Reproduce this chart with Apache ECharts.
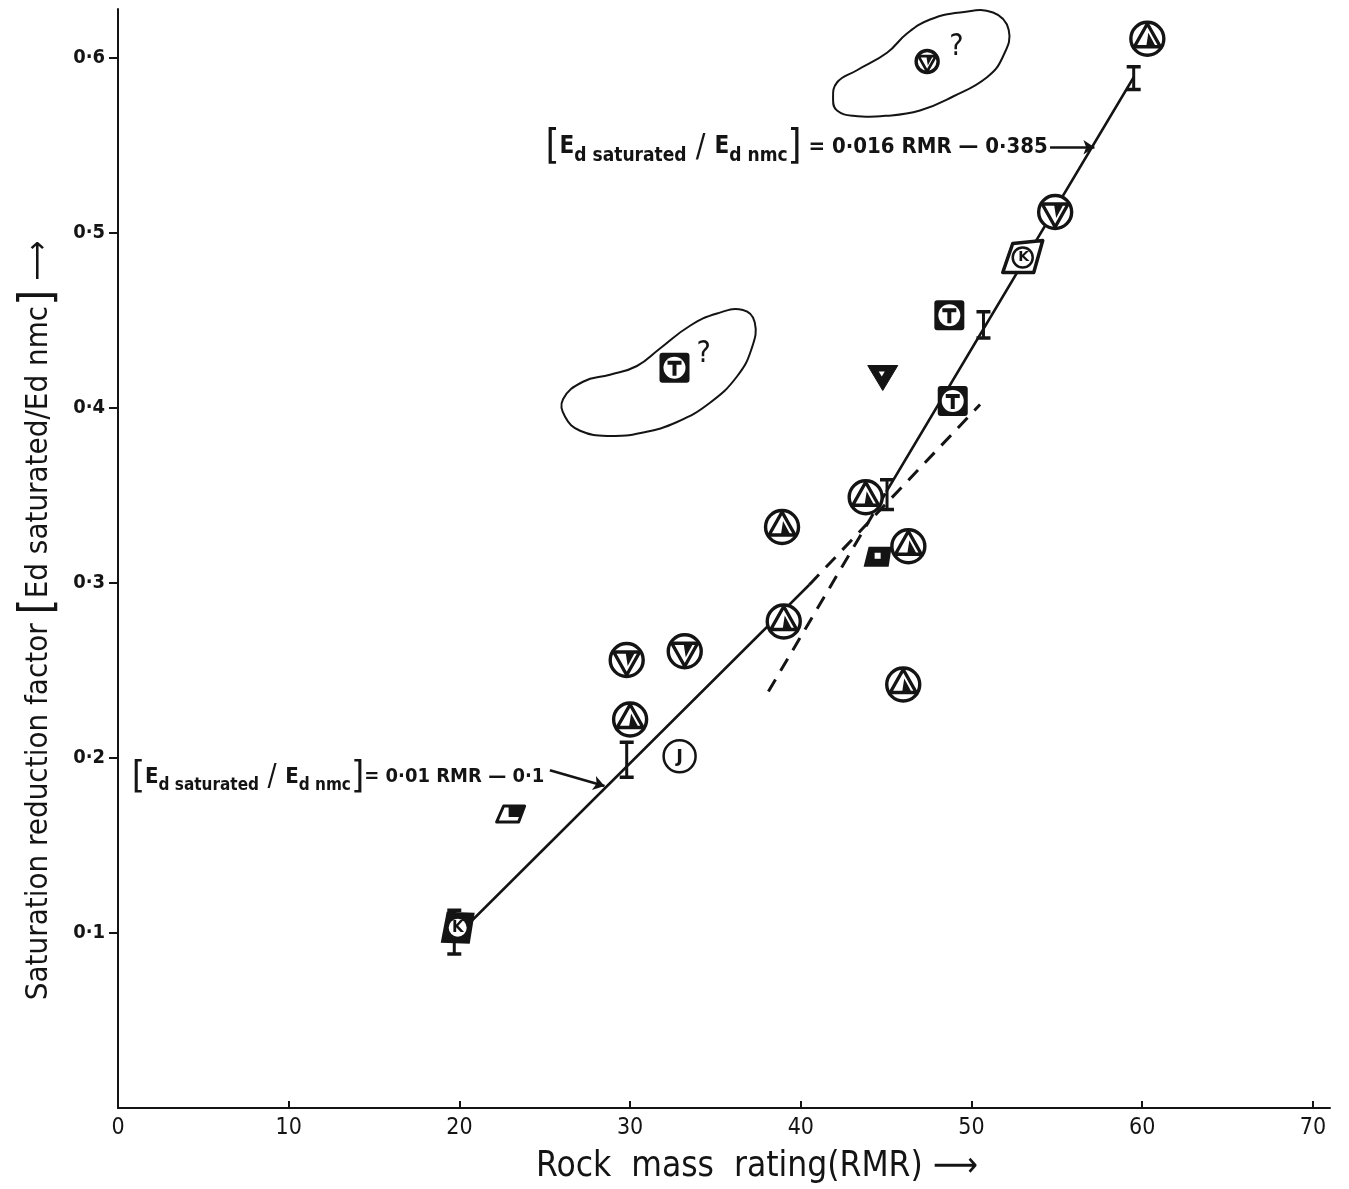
<!DOCTYPE html>
<html>
<head>
<meta charset="utf-8">
<script src="https://cdn.jsdelivr.net/npm/echarts@6/dist/echarts.min.js"></script>
<style>
html,body{margin:0;padding:0;background:#fff;}
#chart{width:1349px;height:1189px;}
</style>
</head>
<body>
<div id="chart"></div>
<script>
// ---------- data ----------
const xTicks = [0, 10, 20, 30, 40, 50, 60, 70];
const yTicks = [0.1, 0.2, 0.3, 0.4, 0.5, 0.6];

const pointRMR    = [60.3, 47.4, 54.9, 53.0, 48.7, 44.8, 48.9, 32.6, 43.8, 38.9, 46.3, 44.5, 39.0, 46.0, 29.8, 33.2, 30.0, 32.9, 23.0, 19.9];
const pointFactor = [0.611, 0.598, 0.512, 0.486, 0.453, 0.418, 0.404, 0.423, 0.349, 0.332, 0.321, 0.315, 0.278, 0.242, 0.256, 0.261, 0.222, 0.201, 0.168, 0.103];
const pointMarker = ['cu', 'cds', 'cd', 'dk', 'st', 'td', 'st', 'st', 'cu', 'cu', 'cu', 'sq', 'cu', 'cu', 'cd', 'cd', 'cu', 'cj', 'pg', 'sk'];
const pointQuery  = [false, true, false, false, false, false, false, true, false, false, false, false, false, false, false, false, false, false, false, false];

const errRMR  = [19.7, 29.8, 45.05, 50.7, 59.5];
const errLow  = [0.088, 0.189, 0.342, 0.440, 0.582];
const errHigh = [0.113, 0.209, 0.359, 0.455, 0.595];

const fitSolid = [[19.9, 0.099], [40.5, 0.299], null, [45.0, 0.352], [59.5, 0.589]];
const fit1Dashed = [[40.5, 0.299], [50.5, 0.402]];
const fit2Dashed = [[38.1, 0.238], [45.0, 0.352]];

const blobLow = [[26.07,0.405],[27.24,0.415],[28.82,0.419],[30.40,0.424],[31.75,0.434],[33.51,0.447],[35.09,0.454],[36.61,0.456],[37.30,0.449],[37.12,0.434],[36.26,0.418],[34.68,0.403],[32.75,0.392],[30.76,0.386],[28.82,0.384],[27.07,0.387],[26.19,0.395]];
const blobHigh = [[41.89,0.576],[42.12,0.586],[43.29,0.593],[45.05,0.603],[46.22,0.614],[47.57,0.622],[49.33,0.626],[51.26,0.626],[52.18,0.616],[51.85,0.601],[50.91,0.589],[48.92,0.578],[46.98,0.570],[45.05,0.567],[43.06,0.567],[42.12,0.570]];

const eq1Anchor = [54.5, 0.549];
const eq1Arrow = [[54.6, 0.549], [57.2, 0.549]];
const eq2Anchor = [25.0, 0.189];
const eq2Arrow = [[25.3, 0.193], [28.5, 0.184]];

const eq1Text = '{br|[}{e|E}{sub|d saturated}{sl| / }{e|E}{sub|d nmc}{br|]}{eq| = 0·016 RMR — 0·385}';
const eq2Text = '{br2|[}{e2|E}{sub2|d saturated}{sl2| / }{e2|E}{sub2|d nmc}{br2|]}{eq2|= 0·01 RMR — 0·1}';

const xTitle = 'Rock  mass  rating(RMR) ⟶';
const yTitle = 'Saturation reduction factor {br|[}Ed saturated/Ed nmc{br|]} ⟶';

// ---------- rendering ----------
const INK = '#141414';
const NARROW = '"DejaVu Sans Condensed", "Liberation Sans Narrow", "DejaVu Sans", sans-serif';

function fmtDot(v) { return String(v).replace('.', '·'); }

function markerShapes(t) {
  const c = [];
  if (t === 'cu' || t === 'cd' || t === 'cds') {
    const r = t === 'cds' ? 11 : 16.5;
    const k = r / 16.5;
    const up = t === 'cu' ? 1 : -1;
    c.push({ type: 'circle', shape: { cx: 0, cy: 0, r: r }, style: { stroke: INK, lineWidth: 3.4, fill: '#fff' } });
    c.push({ type: 'polygon', shape: { points: [[0, -15 * k * up], [-13 * k, 8 * k * up], [13 * k, 8 * k * up]] }, style: { stroke: INK, lineWidth: 3.4 * Math.max(k, 0.8), fill: 'none', lineJoin: 'round' } });
    c.push({ type: 'polygon', shape: { points: [[1 * k, -6 * k * up], [8 * k, 7 * k * up], [-1 * k, 7 * k * up]] }, style: { fill: INK } });
  } else if (t === 'st') {
    c.push({ type: 'rect', shape: { x: -15, y: -15, width: 30, height: 30, r: 3 }, style: { fill: INK } });
    c.push({ type: 'circle', shape: { cx: 0, cy: 0, r: 11 }, style: { fill: '#fff' } });
    c.push({ type: 'rect', shape: { x: -7, y: -7, width: 14, height: 4 }, style: { fill: INK } });
    c.push({ type: 'rect', shape: { x: -2, y: -5, width: 4, height: 13 }, style: { fill: INK } });
  } else if (t === 'sk') {
    c.push({ type: 'polygon', shape: { points: [[-11, -16], [17, -15], [12, 16], [-17, 15]] }, style: { fill: INK } });
    c.push({ type: 'circle', shape: { cx: 0, cy: 0, r: 9 }, style: { fill: '#fff' } });
    c.push({ type: 'text', style: { x: 0, y: 0, text: 'K', font: 'bold 15px "DejaVu Sans"', fill: INK, align: 'center', verticalAlign: 'middle' } });
  } else if (t === 'dk') {
    c.push({ type: 'polygon', shape: { points: [[-10, -14], [20, -17], [11, 15], [-20, 15]] }, style: { stroke: INK, lineWidth: 3.5, fill: '#fff', lineJoin: 'round' } });
    c.push({ type: 'circle', shape: { cx: 0, cy: 0, r: 10 }, style: { stroke: INK, lineWidth: 2.5, fill: '#fff' } });
    c.push({ type: 'text', style: { x: 1, y: 0, text: 'K', font: 'bold 14px "DejaVu Sans"', fill: INK, align: 'center', verticalAlign: 'middle' } });
  } else if (t === 'td') {
    c.push({ type: 'polygon', shape: { points: [[-15, -11], [15, -11], [0, 14]] }, style: { fill: INK, stroke: INK, lineWidth: 1, lineJoin: 'round' } });
    c.push({ type: 'polygon', shape: { points: [[-4, -5], [2, -5], [-1, 0]] }, style: { fill: '#fff' } });
  } else if (t === 'cj') {
    c.push({ type: 'circle', shape: { cx: 0, cy: 0, r: 16 }, style: { stroke: INK, lineWidth: 2.5, fill: '#fff' } });
    c.push({ type: 'text', style: { x: 0, y: 1, text: 'J', font: 'bold 18px "DejaVu Sans"', fill: INK, align: 'center', verticalAlign: 'middle' } });
  } else if (t === 'pg') {
    c.push({ type: 'polygon', shape: { points: [[-7, -8], [14, -8], [8, 8], [-14, 8]] }, style: { stroke: INK, lineWidth: 3, fill: '#fff', lineJoin: 'round' } });
    c.push({ type: 'polygon', shape: { points: [[-2, -7], [13, -7], [9, 3], [-2, 3]] }, style: { fill: INK } });
  } else if (t === 'sq') {
    c.push({ type: 'polygon', shape: { points: [[-9, -10], [14, -10], [11, 10], [-14, 10]] }, style: { fill: INK } });
    c.push({ type: 'rect', shape: { x: -3, y: -4, width: 6, height: 6 }, style: { fill: '#fff' } });
  }
  return c;
}

function blobSeries(pts) {
  return {
    type: 'custom', z: 1, data: [pts[0]], silent: true,
    renderItem: (params, api) => {
      const px = pts.map(p => api.coord(p));
      return { type: 'polygon', shape: { points: px, smooth: 0.45 }, style: { stroke: INK, lineWidth: 2, fill: 'none' } };
    }
  };
}

const markerData = pointRMR.map((x, i) => [x, pointFactor[i]]);
const errData = errRMR.map((x, i) => [x, errLow[i], errHigh[i]]);

const chart = echarts.init(document.getElementById('chart'), null, { renderer: 'canvas' });

const richEq = {
  br: { fontSize: 40, lineHeight: 44, fontFamily: NARROW, color: INK },
  e: { fontSize: 24, fontFamily: NARROW, color: INK, fontWeight: 'bold', verticalAlign: 'middle' },
  sub: { fontSize: 19, fontFamily: NARROW, color: INK, fontWeight: 'bold', verticalAlign: 'bottom', padding: [0, 0, 4, 0] },
  sl: { fontSize: 32, fontFamily: NARROW, color: INK },
  eq: { fontSize: 22, fontFamily: NARROW, color: INK, fontWeight: 'bold' },
  br2: { fontSize: 38, lineHeight: 42, fontFamily: NARROW, color: INK },
  e2: { fontSize: 22, fontFamily: NARROW, color: INK, fontWeight: 'bold', verticalAlign: 'middle' },
  sub2: { fontSize: 17, fontFamily: NARROW, color: INK, fontWeight: 'bold', verticalAlign: 'bottom', padding: [0, 0, 4, 0] },
  sl2: { fontSize: 30, fontFamily: NARROW, color: INK },
  eq2: { fontSize: 20, fontFamily: NARROW, color: INK, fontWeight: 'bold' }
};

const option = {
  backgroundColor: '#ffffff',
  animation: false,
  grid: { left: 118, right: 19, top: 9, bottom: 79, containLabel: false },
  xAxis: {
    type: 'value', min: 0, max: 71, interval: 10,
    axisLine: { lineStyle: { color: INK, width: 2 } },
    axisTick: { inside: true, length: 7, customValues: xTicks, lineStyle: { color: INK, width: 2 } },
    splitLine: { show: false },
    axisLabel: {
      color: INK, fontSize: 23, fontFamily: NARROW, margin: 9, customValues: xTicks,
      formatter: v => String(v)
    },
    name: xTitle, nameLocation: 'middle', nameGap: 41,
    nameTextStyle: { color: INK, fontSize: 35, fontFamily: '"DejaVu Sans Condensed", "DejaVu Sans", sans-serif', padding: [0, 0, 0, 66] }
  },
  yAxis: {
    type: 'value', min: 0, max: 0.628, interval: 0.1,
    axisLine: { lineStyle: { color: INK, width: 2 } },
    axisTick: { inside: false, length: 9, customValues: yTicks, lineStyle: { color: INK, width: 2 } },
    splitLine: { show: false },
    axisLabel: {
      color: INK, fontSize: 20, fontWeight: 'bold', fontFamily: NARROW, margin: 13, customValues: yTicks,
      formatter: v => fmtDot(Math.round(v * 10) / 10)
    },
    name: yTitle, nameLocation: 'middle', nameGap: 50,
    nameTextStyle: {
      color: INK, fontSize: 31, fontFamily: NARROW, padding: [0, 124, 0, 0],
      rich: { br: { fontSize: 46, fontFamily: NARROW, color: INK } }
    }
  },
  series: [
    blobSeries(blobLow),
    blobSeries(blobHigh),
    { type: 'line', data: fitSolid, symbol: 'none', connectNulls: false, lineStyle: { color: INK, width: 2.5 }, z: 2 },
    { type: 'line', data: fit1Dashed, symbol: 'none', lineStyle: { color: INK, width: 3, type: [14, 10] }, z: 2 },
    { type: 'line', data: fit2Dashed, symbol: 'none', lineStyle: { color: INK, width: 3, type: [14, 10] }, z: 2 },
    {
      type: 'lines', coordinateSystem: 'cartesian2d', z: 3,
      symbol: ['none', 'arrow'], symbolSize: 11,
      lineStyle: { color: INK, width: 2.5, opacity: 1 },
      data: [{ coords: eq1Arrow }, { coords: eq2Arrow }]
    },
    {
      type: 'custom', z: 5, data: errData,
      renderItem: (params, api) => {
        const top = api.coord([api.value(0), api.value(2)]);
        const bot = api.coord([api.value(0), api.value(1)]);
        const w = 7;
        return {
          type: 'group', children: [
            { type: 'line', shape: { x1: top[0], y1: top[1], x2: bot[0], y2: bot[1] }, style: { stroke: INK, lineWidth: 3 } },
            { type: 'line', shape: { x1: top[0] - w, y1: top[1], x2: top[0] + w, y2: top[1] }, style: { stroke: INK, lineWidth: 3.5 } },
            { type: 'line', shape: { x1: bot[0] - w, y1: bot[1], x2: bot[0] + w, y2: bot[1] }, style: { stroke: INK, lineWidth: 3.5 } }
          ]
        };
      }
    },
    {
      type: 'custom', z: 6, data: markerData,
      renderItem: (params, api) => {
        const p = api.coord([api.value(0), api.value(1)]);
        const i = params.dataIndex;
        const children = markerShapes(pointMarker[i]);
        if (pointQuery[i]) {
          children.push({ type: 'text', style: { x: 22, y: -14, text: '?', font: '30px "DejaVu Sans Condensed", sans-serif', fill: INK, align: 'left', verticalAlign: 'middle' } });
        }
        return { type: 'group', x: p[0], y: p[1], children: children };
      }
    },
    {
      type: 'scatter', z: 7, symbolSize: 1, itemStyle: { color: 'transparent', opacity: 1 }, silent: true,
      data: [
        { value: eq1Anchor, label: { formatter: eq1Text } },
        { value: eq2Anchor, label: { formatter: eq2Text } }
      ],
      label: {
        show: true, position: 'left', distance: 0, color: INK, opacity: 1,
        rich: richEq
      }
    }
  ]
};
chart.setOption(option);
</script>
</body>
</html>
